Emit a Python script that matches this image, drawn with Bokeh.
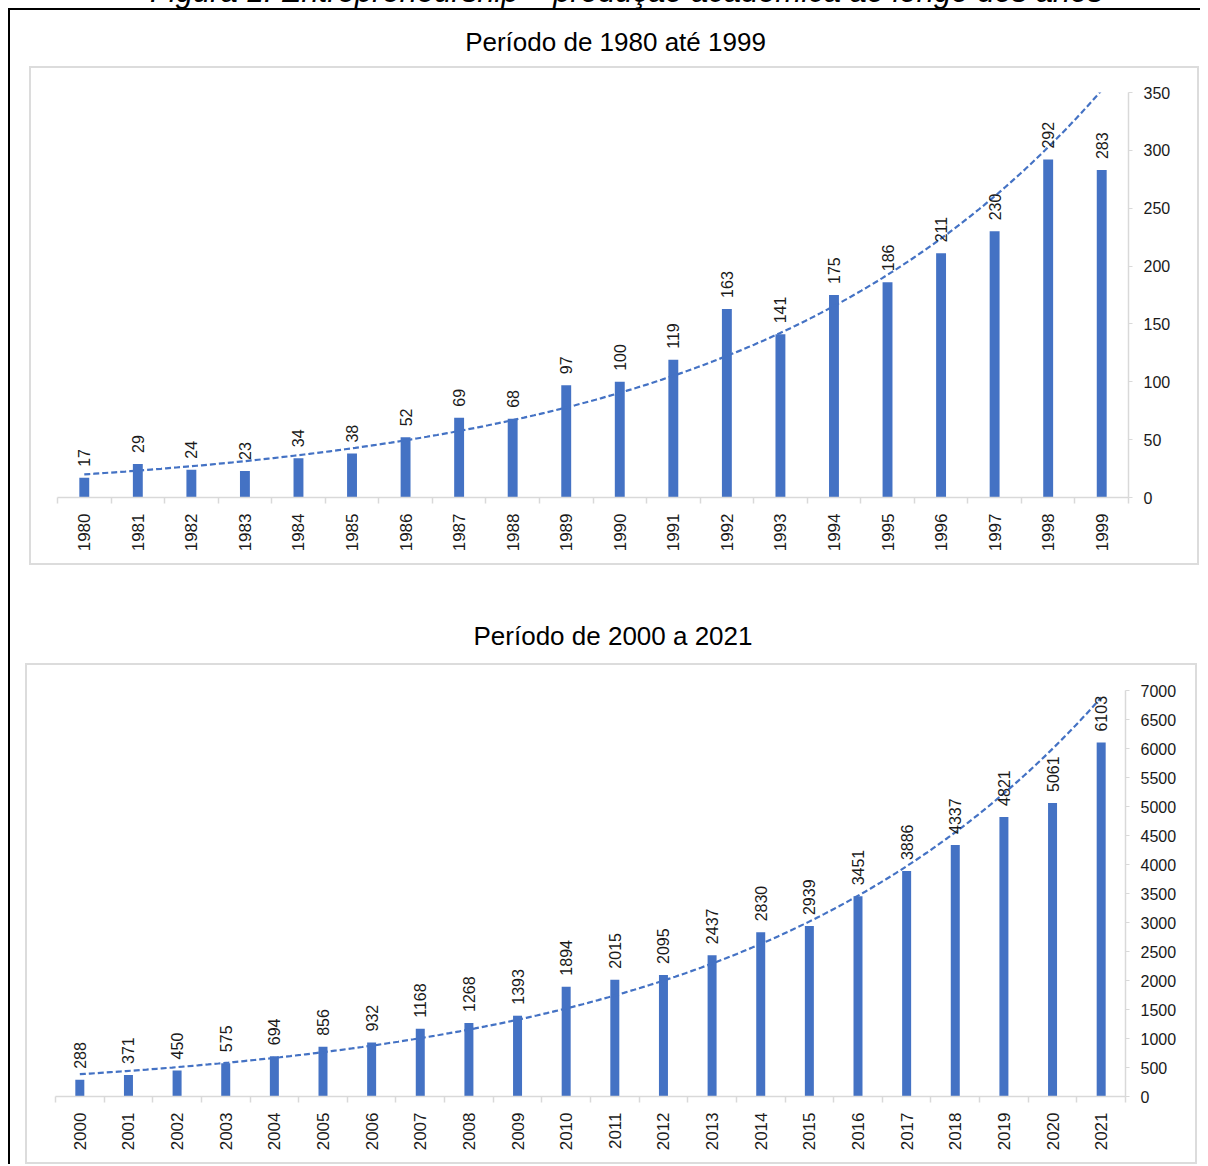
import numpy as np
from bokeh.plotting import figure
from bokeh.models import Range1d, FixedTicker, Div, ColumnDataSource
from bokeh.layouts import column
from bokeh.core.properties import value
from bokeh.embed import file_html
from bokeh.resources import INLINE

# ---------------- data ----------------
years_a = [1980, 1981, 1982, 1983, 1984, 1985, 1986, 1987, 1988, 1989,
           1990, 1991, 1992, 1993, 1994, 1995, 1996, 1997, 1998, 1999]
counts_a = [17, 29, 24, 23, 34, 38, 52, 69, 68, 97,
            100, 119, 163, 141, 175, 186, 211, 230, 292, 283]

years_b = [2000, 2001, 2002, 2003, 2004, 2005, 2006, 2007, 2008, 2009, 2010,
           2011, 2012, 2013, 2014, 2015, 2016, 2017, 2018, 2019, 2020, 2021]
counts_b = [288, 371, 450, 575, 694, 856, 932, 1168, 1268, 1393, 1894,
            2015, 2095, 2437, 2830, 2939, 3451, 3886, 4337, 4821, 5061, 6103]

ticks_a = [0, 50, 100, 150, 200, 250, 300, 350]
ticks_b = [0, 500, 1000, 1500, 2000, 2500, 3000, 3500, 4000, 4500,
           5000, 5500, 6000, 6500, 7000]

caption = "Figura 1: Entrepreneurship \u2013 produção acadêmica ao longo dos anos"
title_a = "Período de 1980 até 1999"
title_b = "Período de 2000 a 2021"

BLUE = "#4472C4"
GREY = "#d9d9d9"
FONT = "Liberation Sans"
TXT = "#1a1a1a"


def exp_trend(xs, ys):
    xs = np.asarray(xs, dtype=float)
    b, a = np.polyfit(xs - xs[0], np.log(np.asarray(ys, dtype=float)), 1)
    xx = np.linspace(xs[0], xs[-1], 200)
    return xx, np.exp(a + b * (xx - xs[0]))


def make_chart(years, counts, yticks, width, height, mb):
    left, right, top, bottom = mb
    p = figure(width=width, height=height,
               x_range=Range1d(years[0] - 0.5, years[-1] + 0.5),
               y_range=Range1d(yticks[0], yticks[-1]),
               y_axis_location="right",
               output_backend="svg", toolbar_location=None,
               min_border_left=left, min_border_right=right,
               min_border_top=top, min_border_bottom=bottom)
    p.outline_line_color = None
    p.xgrid.visible = False
    p.ygrid.visible = False
    p.background_fill_color = "white"
    p.border_fill_color = "white"

    src = ColumnDataSource(dict(x=years, top=counts,
                                lab=[str(v) for v in counts]))
    p.vbar(x="x", top="top", width=0.185, source=src,
           fill_color=BLUE, line_color=None)

    tx, ty = exp_trend(years, counts)
    p.line(tx, ty, line_color=BLUE, line_width=2.2, line_dash="6 3")

    p.text(x="x", y="top", text="lab", source=src, angle=np.pi / 2,
           text_align="left", text_baseline="middle", y_offset=-11,
           text_font=value(FONT), text_font_size="16px", text_color=TXT)

    xa = p.xaxis[0]
    bounds = [y - 0.5 for y in years] + [years[-1] + 0.5]
    xa.ticker = FixedTicker(ticks=years, minor_ticks=bounds)
    xa.major_label_overrides = {y: str(y) for y in years}
    xa.axis_line_color = GREY
    xa.axis_line_width = 1.5
    xa.major_tick_in = 0
    xa.major_tick_out = 0
    xa.minor_tick_in = 0
    xa.minor_tick_out = 6
    xa.minor_tick_line_color = GREY
    xa.minor_tick_line_width = 1.5
    xa.major_label_orientation = np.pi / 2
    xa.major_label_standoff = 10
    xa.major_label_text_font = FONT
    xa.major_label_text_font_size = "17px"
    xa.major_label_text_color = TXT

    ya = p.yaxis[0]
    ya.ticker = FixedTicker(ticks=yticks, minor_ticks=[])
    ya.axis_line_color = GREY
    ya.axis_line_width = 1.5
    ya.major_tick_line_color = GREY
    ya.major_tick_in = 0
    ya.major_tick_out = 4
    ya.major_label_standoff = 11
    ya.major_label_text_font = FONT
    ya.major_label_text_font_size = "16px"
    ya.major_label_text_color = TXT
    return p


BOX = {"border": "2px solid #dcdcdc"}

p1 = make_chart(years_a, counts_a, ticks_a, 1166, 495, (26, 69, 24, 66))
box1 = column(p1, spacing=0, margin=(0, 0, 0, 19), styles=BOX)
p2 = make_chart(years_b, counts_b, ticks_b, 1168, 497, (28, 70, 25, 66))
box2 = column(p2, spacing=0, margin=(0, 0, 0, 15), styles=BOX)

cap_div = Div(text=(
    "<div style=\"font-family:'Liberation Sans';font-style:italic;font-size:31px;"
    "line-height:34px;text-align:center;width:1190px;padding-left:43px;"
    "box-sizing:border-box;color:#000;white-space:nowrap;\">" + caption + "</div>"),
    width=1190, height=35, margin=(-35, 0, 0, 0))

t1 = Div(text=(
    "<div style=\"font-family:'Liberation Sans';font-size:26px;line-height:30px;"
    "text-align:center;width:1190px;padding-left:21px;box-sizing:border-box;"
    "padding-top:17px;color:#000;white-space:nowrap;\">" + title_a + "</div>"),
    width=1190, height=56, margin=(0, 0, 0, 0))

t2 = Div(text=(
    "<div style=\"font-family:'Liberation Sans';font-size:26px;line-height:30px;"
    "text-align:center;width:1190px;padding-left:16px;box-sizing:border-box;"
    "padding-top:56px;color:#000;white-space:nowrap;\">" + title_b + "</div>"),
    width=1190, height=98, margin=(0, 0, 0, 0))

layout = column(cap_div, t1, box1, t2, box2, spacing=0, margin=(8, 0, 0, 8),
                styles={"border-top": "2px solid black",
                        "border-left": "2px solid black"})

open("out.html", "w").write(file_html(layout, INLINE))
